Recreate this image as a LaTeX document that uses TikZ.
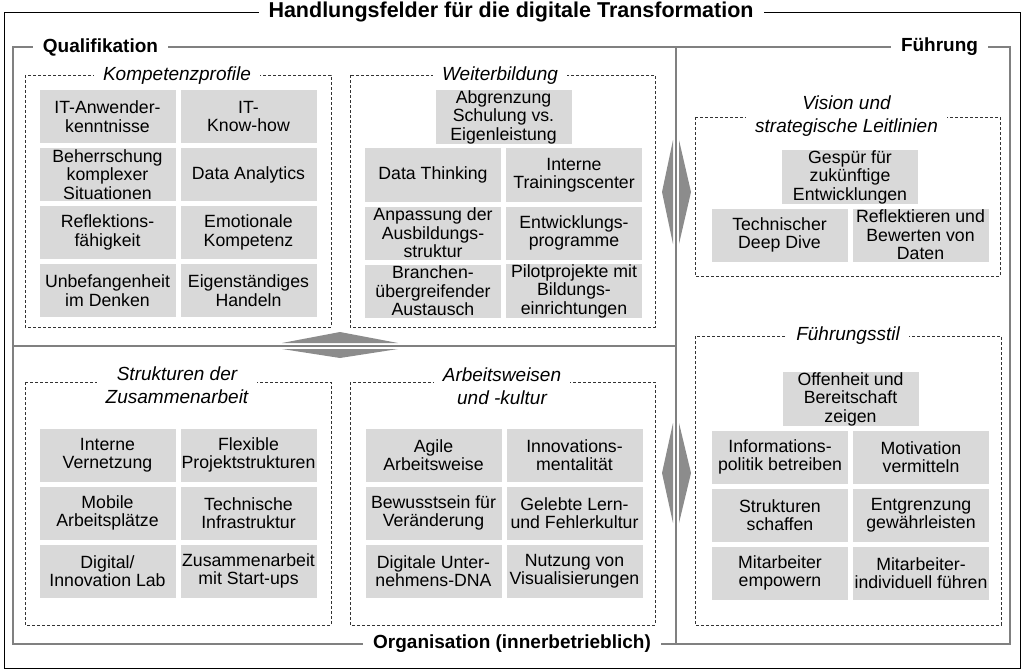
\documentclass[tikz,border=0pt]{standalone}
\usepackage{fontspec}
\setmainfont{Liberation Sans}
\usetikzlibrary{positioning}
\definecolor{cellgray}{HTML}{D9D9D9}
\definecolor{framegray}{HTML}{808080}
\definecolor{arrowgray}{HTML}{8C8C8C}
\newcommand{\cellfont}{\fontsize{17.7}{18.5}\selectfont}
\newcommand{\grouptitlefont}{\fontsize{19}{23}\selectfont\itshape}
\newcommand{\fieldlabelfont}{\fontsize{19}{22}\selectfont\bfseries}

\begin{document}
\begin{tikzpicture}[x=1pt, y=-1pt, node distance=58pt and 141pt, on grid,
  cell/.style={fill=cellgray, minimum width=136pt, minimum height=53pt, inner sep=0pt, align=center, font=\cellfont},
  groupbox/.style={draw=black!80, dash pattern=on 3pt off 2pt, line width=0.7pt},
  grouptitle/.style={fill=white, inner xsep=9pt, inner ysep=1pt, align=center, font=\grouptitlefont},
  fieldlabel/.style={fill=white, inner xsep=10pt, inner ysep=1pt, font=\fieldlabelfont},
  frame/.style={draw=framegray, line width=1.8pt}]

\useasboundingbox (0,0) rectangle (1024,671);

\draw[line width=0.9pt] (4,12) rectangle (1020,668);
\draw[frame] (13,47) rectangle (1010,644);
\draw[frame] (676,47) -- (676,644);
\draw[frame] (13,346) -- (676,346);

\node[fieldlabel, font=\fontsize{21.5}{24}\selectfont\bfseries] (title) at (511,12) {Handlungsfelder für die digitale Transformation};
\node[fieldlabel] (qual) at (100.5,47) {Qualifikation};
\node[fieldlabel] (fuehr) at (939.5,47) {Führung};
\node[fieldlabel] (orga) at (512,644) {Organisation (innerbetrieblich)};

\fill[arrowgray] (282,343) -- (340,332) -- (398,343) -- cycle;
\fill[arrowgray] (282,349) -- (340,358) -- (398,349) -- cycle;
\fill[arrowgray] (673,140) -- (662,192) -- (673,244) -- cycle;
\fill[arrowgray] (679,140) -- (691,192) -- (679,244) -- cycle;
\fill[arrowgray] (673,423) -- (662,473) -- (673,523) -- cycle;
\fill[arrowgray] (679,423) -- (691,473) -- (679,523) -- cycle;

\draw[groupbox] (25,75) rectangle (331,327);
\draw[groupbox] (350,75) rectangle (655,327);
\draw[groupbox] (25,382) rectangle (331,625);
\draw[groupbox] (350,382) rectangle (655,625);
\draw[groupbox] (695,117) rectangle (1000,276);
\draw[groupbox] (695,336) rectangle (1001,625);

\node[grouptitle] (kompt) at (177,76) {Kompetenzprofile};
\node[grouptitle] (weitt) at (500,76) {Weiterbildung};
\node[grouptitle] (strut) at (177,385.5) {Strukturen der\\Zusammenarbeit};
\node[grouptitle] (arbt) at (502,386) {Arbeitsweisen\\und -kultur};
\node[grouptitle] (vist) at (846.5,116.5) {Vision und\\strategische Leitlinien};
\node[grouptitle] (fstilt) at (848,336) {Führungsstil};

\node[cell] (k1) at (107.5,116.5) {IT-Anwender-\\kenntnisse};
\node[cell] (k2) [right=of k1] {IT-\\Know-how};
\node[cell] (k3) [below=of k1] {Beherrschung\\komplexer\\Situationen};
\node[cell] (k4) [right=of k3] {Data Analytics};
\node[cell] (k5) [below=of k3] {Reflektions-\\fähigkeit};
\node[cell] (k6) [right=of k5] {Emotionale\\Kompetenz};
\node[cell] (k7) [below=of k5] {Unbefangenheit\\im Denken};
\node[cell] (k8) [right=of k7] {Eigenständiges\\Handeln};

\node[cell] (w0) at (503.5,117) {Abgrenzung\\Schulung vs.\\Eigenleistung};
\node[cell] (w1) [below left=58pt and 70.5pt of w0] {Data Thinking};
\node[cell] (w2) [right=of w1] {Interne\\Trainingscenter};
\node[cell] (w3) [below=of w1] {Anpassung der\\Ausbildungs-\\struktur};
\node[cell] (w4) [right=of w3] {Entwicklungs-\\programme};
\node[cell] (w5) [below=of w3] {Branchen-\\übergreifender\\Austausch};
\node[cell] (w6) [right=of w5] {Pilotprojekte mit\\Bildungs-\\einrichtungen};

\node[cell] (s1) at (107.5,455) {Interne\\Vernetzung};
\node[cell] (s2) [right=of s1] {Flexible\\Projektstrukturen};
\node[cell] (s3) [below=of s1] {Mobile\\Arbeitsplätze};
\node[cell] (s4) [right=of s3] {Technische\\Infrastruktur};
\node[cell] (s5) [below=of s3] {Digital/\\Innovation Lab};
\node[cell] (s6) [right=of s5] {Zusammenarbeit\\mit Start-ups};

\node[cell] (a1) at (433.5,455) {Agile\\Arbeitsweise};
\node[cell] (a2) [right=of a1] {Innovations-\\mentalität};
\node[cell] (a3) [below=of a1] {Bewusstsein für\\Veränderung};
\node[cell] (a4) [right=of a3] {Gelebte Lern-\\und Fehlerkultur};
\node[cell] (a5) [below=of a3] {Digitale Unter-\\nehmens-DNA};
\node[cell] (a6) [right=of a5] {Nutzung von\\Visualisierungen};

\node[cell] (v0) at (850,177) {Gespür für\\zukünftige\\Entwicklungen};
\node[cell] (v1) [below left=58pt and 70.5pt of v0] {Technischer\\Deep Dive};
\node[cell] (v2) [right=of v1] {Reflektieren und\\Bewerten von\\Daten};

\node[cell] (f0) at (850.5,399) {Offenheit und\\Bereitschaft\\zeigen};
\node[cell] (f1) [below left=58pt and 70.5pt of f0] {Informations-\\politik betreiben};
\node[cell] (f2) [right=of f1] {Motivation\\vermitteln};
\node[cell] (f3) [below=of f1] {Strukturen\\schaffen};
\node[cell] (f4) [right=of f3] {Entgrenzung\\gewährleisten};
\node[cell] (f5) [below=of f3] {Mitarbeiter\\empowern};
\node[cell] (f6) [right=of f5] {Mitarbeiter-\\individuell führen};

\end{tikzpicture}
\end{document}
